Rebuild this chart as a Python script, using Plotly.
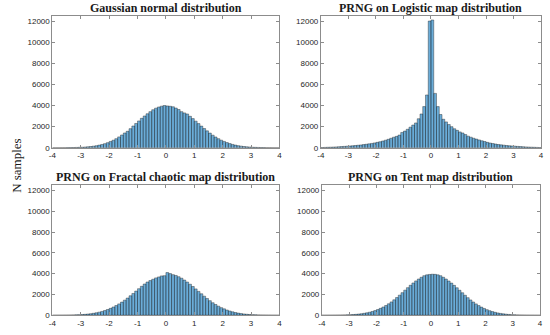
import plotly.graph_objects as go

bin_centers = [round(-3.95 + 0.1 * i, 2) for i in range(80)]

gaussian = [2, 3, 4, 6, 9, 13, 17, 24, 33, 43,
            52, 70, 92, 118, 152, 196, 250, 312, 390, 485,
            600, 715, 860, 1030, 1210, 1400, 1560, 1810, 2060, 2300,
            2540, 2790, 3010, 3220, 3420, 3600, 3750, 3860, 3940, 4000,
            3960, 3930, 3880, 3760, 3620, 3420, 3300, 3200, 2980, 2760,
            2520, 2290, 2050, 1820, 1600, 1390, 1190, 1020, 860, 720,
            600, 490, 395, 315, 252, 198, 154, 118, 91, 69,
            51, 40, 31, 23, 17, 12, 9, 6, 4, 3]

logistic = [25, 35, 45, 55, 65, 80, 95, 110, 130, 150,
            170, 190, 215, 240, 265, 300, 330, 370, 410, 460,
            510, 570, 640, 720, 800, 900, 1000, 1080, 1200, 1450,
            1580, 1750, 1950, 2150, 2350, 2750, 3200, 3900, 5000, 12000,
            12100, 5150, 3900, 3150, 2700, 2450, 2200, 2000, 1800, 1650,
            1500, 1400, 1250, 1100, 1000, 900, 820, 740, 660, 590,
            510, 450, 400, 350, 310, 275, 245, 215, 190, 170,
            150, 130, 110, 95, 80, 65, 55, 45, 35, 25]

fractal = [3, 4, 6, 8, 11, 15, 20, 28, 38, 50,
           66, 86, 112, 145, 185, 235, 295, 365, 450, 550,
           660, 790, 930, 1090, 1260, 1450, 1650, 1870, 2090, 2320,
           2550, 2780, 3000, 3190, 3330, 3460, 3590, 3680, 3780, 3800,
           4100, 4000, 3900, 3820, 3700, 3560, 3380, 3190, 2980, 2760,
           2530, 2290, 2060, 1830, 1610, 1400, 1200, 1030, 870, 730,
           610, 500, 405, 325, 258, 203, 158, 122, 93, 70,
           52, 40, 30, 22, 16, 12, 9, 6, 4, 3]

tent = [2, 3, 4, 5, 7, 10, 14, 20, 28, 38,
        50, 66, 86, 112, 144, 184, 232, 290, 360, 445,
        545, 660, 790, 935, 1100, 1280, 1480, 1700, 1930, 2170,
        2410, 2650, 2880, 3100, 3300, 3480, 3650, 3800, 3880, 3920,
        3940, 3930, 3880, 3800, 3650, 3480, 3290, 3090, 2870, 2640,
        2400, 2160, 1920, 1690, 1470, 1270, 1090, 925, 780, 650,
        535, 435, 350, 280, 220, 172, 133, 102, 77, 57,
        42, 31, 22, 16, 11, 8, 5, 4, 3, 2]

titles = ["Gaussian normal distribution",
          "PRNG on Logistic map distribution",
          "PRNG on Fractal chaotic map distribution",
          "PRNG on Tent map distribution"]
series = [gaussian, logistic, fractal, tent]
x_ticks = [-4, -3, -2, -1, 0, 1, 2, 3, 4]
x_tick_text = ["-4", "-3", "-2", "-1", "0", "1", "2", "3", "4"]
y_ticks = [0, 2000, 4000, 6000, 8000, 10000, 12000]
y_tick_text = ["0", "2000", "4000", "6000", "8000", "10000", "12000"]

W, H = 550, 335
# pixel boxes (left, right, top, bottom), title centre y
boxes = [(49, 279, 16, 150, 8), (321, 544, 16, 150, 8),
         (49, 279, 188, 320, 180), (322, 543, 188, 320, 180)]

fig = go.Figure()
layout = dict(width=W, height=H, margin=dict(l=0, r=0, t=0, b=0),
              paper_bgcolor="white", plot_bgcolor="white",
              showlegend=False, bargap=0, hovermode=False, annotations=[])
for i, (vals, title, box) in enumerate(zip(series, titles, boxes)):
    n = i + 1
    xa = "x" if n == 1 else f"x{n}"
    ya = "y" if n == 1 else f"y{n}"
    fig.add_trace(go.Bar(x=bin_centers, y=vals, width=0.1, xaxis=xa, yaxis=ya,
                         marker=dict(color="rgba(0,114,189,0.58)",
                                     line=dict(color="rgba(30,30,30,0.8)", width=0.5))))
    l, r, t, b, ty = box
    axcommon = dict(showline=True, linecolor="#8c8c8c", linewidth=1, mirror="ticks",
                    ticks="inside", ticklen=3, tickcolor="#8c8c8c", showgrid=False,
                    zeroline=False, ticklabeloverflow="allow",
                    tickfont=dict(family="Liberation Sans, Arial", size=8, color="#262626"))
    layout["xaxis" if n == 1 else f"xaxis{n}"] = dict(
        domain=[l / W, r / W], range=[-4, 4], tickvals=x_ticks, ticktext=x_tick_text,
        anchor=ya, **axcommon)
    layout["yaxis" if n == 1 else f"yaxis{n}"] = dict(
        domain=[1 - b / H, 1 - t / H], range=[0, 12500], tickvals=y_ticks, ticktext=y_tick_text,
        anchor=xa, **axcommon)
    layout["annotations"].append(dict(
        text=f"<b>{title}</b>", x=(l + r) / 2 / W, y=1 - ty / H, xref="paper", yref="paper",
        xanchor="center", yanchor="middle", showarrow=False,
        font=dict(family="Liberation Serif, Times New Roman, serif", size=12, color="#1a1a1a")))

layout["annotations"].append(dict(
    text="N samples", x=12 / W, y=0.5, xref="paper", yref="paper", textangle=-90,
    xanchor="center", yanchor="middle", showarrow=False,
    font=dict(family="Liberation Serif, Times New Roman, serif", size=13, color="#1a1a1a")))

fig.update_layout(**layout)
fig.write_html("out.html", config={"displayModeBar": False, "staticPlot": True},
               post_script="document.body.style.margin='0';document.body.style.overflow='hidden';")
